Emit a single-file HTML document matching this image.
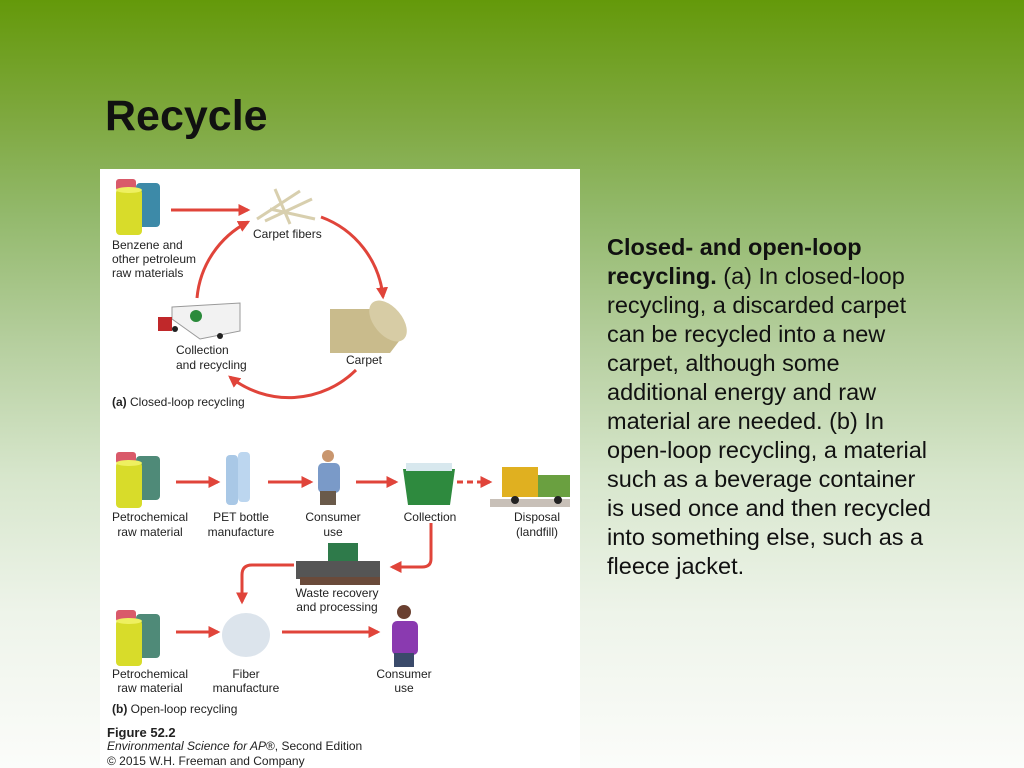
<!DOCTYPE html>
<html><head><meta charset="utf-8"><style>
body{margin:0;width:1024px;height:768px;overflow:hidden;position:relative;font-family:"Liberation Sans",sans-serif;
background:linear-gradient(180deg,#64990a 0%,#7ea83e 15%,#93b96c 28%,#b6cf9f 45%,#d7e6cc 62%,#eef4ea 80%,#fbfcfa 100%);}
h1{position:absolute;left:105px;top:92px;margin:0;font-size:43px;font-weight:bold;color:#111;}
.txt{position:absolute;left:607px;top:233px;white-space:nowrap;font-size:23.5px;line-height:29px;color:#111;}
svg{position:absolute;left:100px;top:169px;}
</style></head><body>
<h1>Recycle</h1>
<div class="txt"><b>Closed- and open-loop<br>recycling.</b> (a) In closed-loop<br>recycling, a discarded carpet<br>can be recycled into a new<br>carpet, although some<br>additional energy and raw<br>material are needed. (b) In<br>open-loop recycling, a material<br>such as a beverage container<br>is used once and then recycled<br>into something else, such as a<br>fleece jacket.</div>
<svg width="480" height="599" viewBox="0 0 480 599" font-family="Liberation Sans, sans-serif" font-size="12" fill="#222">
<defs>
<marker id="a" viewBox="0 0 10 10" refX="8" refY="5" markerWidth="4" markerHeight="4" orient="auto"><path d="M0,0L10,5L0,10z" fill="#e0443a"/></marker>
<g id="barrels">
<rect x="0" y="0" width="20" height="12" rx="3" fill="#d95a6a"/>
<rect x="20" y="4" width="24" height="44" rx="4" fill="#3d8aa8"/>
<rect x="0" y="10" width="26" height="46" rx="4" fill="#d8dc2a"/>
<ellipse cx="13" cy="11" rx="13" ry="3" fill="#eef060"/>
</g>
<g id="barrels2">
<rect x="0" y="0" width="20" height="12" rx="3" fill="#d95a6a"/>
<rect x="20" y="4" width="24" height="44" rx="4" fill="#4f8a78"/>
<rect x="0" y="10" width="26" height="46" rx="4" fill="#d8dc2a"/>
<ellipse cx="13" cy="11" rx="13" ry="3" fill="#eef060"/>
</g>
</defs>
<rect width="480" height="599" fill="#fff"/>
<use href="#barrels" x="16" y="10"/>
<line x1="71" y1="41" x2="148" y2="41" stroke="#e0443a" stroke-width="3" marker-end="url(#a)"/>
<g stroke="#d8cfae" stroke-width="3">
<line x1="157" y1="50" x2="200" y2="22"/><line x1="165" y1="52" x2="212" y2="30"/><line x1="170" y1="40" x2="215" y2="50"/><line x1="175" y1="20" x2="190" y2="55"/></g>
<text x="153" y="69">Carpet fibers</text>
<text x="12" y="80">Benzene and</text><text x="12" y="94">other petroleum</text><text x="12" y="108">raw materials</text>
<path d="M221,48 A95,95 0 0 1 283,128" fill="none" stroke="#e0443a" stroke-width="3" marker-end="url(#a)"/>
<path d="M256,201 A95,95 0 0 1 130,208" fill="none" stroke="#e0443a" stroke-width="3" marker-end="url(#a)"/>
<path d="M97,129 A95,95 0 0 1 148,53" fill="none" stroke="#e0443a" stroke-width="3" marker-end="url(#a)"/>
<polygon points="72,138 140,134 140,162 100,170 72,150" fill="#f2f2f2" stroke="#999"/>
<rect x="58" y="148" width="14" height="14" fill="#c0282a"/>
<circle cx="96" cy="147" r="6" fill="#2a8a3a"/>
<circle cx="75" cy="160" r="3" fill="#222"/><circle cx="120" cy="167" r="3" fill="#222"/>
<text x="76" y="185">Collection</text><text x="76" y="200">and recycling</text>
<polygon points="230,140 270,140 303,167 290,184 230,184" fill="#c9bb8c"/>
<ellipse cx="288" cy="152" rx="14" ry="24" transform="rotate(-40 288 152)" fill="#d7cca5"/>
<text x="246" y="195">Carpet</text>
<text x="12" y="237"><tspan font-weight="bold">(a)</tspan> Closed-loop recycling</text>
<use href="#barrels2" x="16" y="283"/>
<line x1="76" y1="313" x2="118" y2="313" stroke="#e0443a" stroke-width="3" marker-end="url(#a)"/>
<rect x="126" y="286" width="12" height="50" rx="4" fill="#a9c8e6"/><rect x="138" y="283" width="12" height="50" rx="4" fill="#bcd6ef"/>
<line x1="168" y1="313" x2="211" y2="313" stroke="#e0443a" stroke-width="3" marker-end="url(#a)"/>
<circle cx="228" cy="287" r="6" fill="#c9966e"/><rect x="218" y="294" width="22" height="30" rx="5" fill="#7a9ac8"/><rect x="220" y="322" width="16" height="14" fill="#6a5a4a"/>
<line x1="256" y1="313" x2="296" y2="313" stroke="#e0443a" stroke-width="3" marker-end="url(#a)"/>
<polygon points="303,300 355,300 350,336 308,336" fill="#2e8a3e"/><rect x="306" y="294" width="46" height="8" fill="#d8e8ee"/>
<line x1="357" y1="313" x2="390" y2="313" stroke="#e0443a" stroke-width="3" stroke-dasharray="6,4" marker-end="url(#a)"/>
<rect x="390" y="330" width="80" height="8" fill="#c8c0b8"/>
<rect x="402" y="298" width="36" height="30" fill="#e0b020"/><rect x="438" y="306" width="32" height="22" fill="#6aa040"/>
<circle cx="415" cy="331" r="4" fill="#222"/><circle cx="458" cy="331" r="4" fill="#222"/>
<g text-anchor="middle">
<text x="50" y="352">Petrochemical</text><text x="50" y="367">raw material</text>
<text x="141" y="352">PET bottle</text><text x="141" y="367">manufacture</text>
<text x="233" y="352">Consumer</text><text x="233" y="367">use</text>
<text x="330" y="352">Collection</text>
<text x="437" y="352">Disposal</text><text x="437" y="367">(landfill)</text>
</g>
<path d="M331,354 V390 Q331,398 322,398 H292" fill="none" stroke="#e0443a" stroke-width="3" marker-end="url(#a)"/>
<rect x="228" y="374" width="30" height="34" fill="#2e7a4a"/><rect x="196" y="392" width="84" height="18" fill="#555"/><rect x="200" y="408" width="80" height="8" fill="#6a4a3a"/>
<g text-anchor="middle"><text x="237" y="428">Waste recovery</text><text x="237" y="442">and processing</text></g>
<path d="M194,396 H152 Q142,396 142,406 V433" fill="none" stroke="#e0443a" stroke-width="3" marker-end="url(#a)"/>
<use href="#barrels2" x="16" y="441"/>
<line x1="76" y1="463" x2="118" y2="463" stroke="#e0443a" stroke-width="3" marker-end="url(#a)"/>
<ellipse cx="146" cy="466" rx="24" ry="22" fill="#dce4ec"/>
<line x1="182" y1="463" x2="278" y2="463" stroke="#e0443a" stroke-width="3" marker-end="url(#a)"/>
<circle cx="304" cy="443" r="7" fill="#6a4030"/><rect x="292" y="452" width="26" height="34" rx="5" fill="#8a3ab0"/><rect x="294" y="484" width="20" height="14" fill="#3a4a6a"/>
<g text-anchor="middle">
<text x="50" y="509">Petrochemical</text><text x="50" y="523">raw material</text>
<text x="146" y="509">Fiber</text><text x="146" y="523">manufacture</text>
<text x="304" y="509">Consumer</text><text x="304" y="523">use</text>
</g>
<text x="12" y="544"><tspan font-weight="bold">(b)</tspan> Open-loop recycling</text>
<text x="7" y="568" font-weight="bold" font-size="13">Figure 52.2</text>
<text x="7" y="581" font-size="12"><tspan font-style="italic">Environmental Science for AP</tspan>®, Second Edition</text>
<text x="7" y="596" font-size="12">© 2015 W.H. Freeman and Company</text>
</svg>
</body></html>
